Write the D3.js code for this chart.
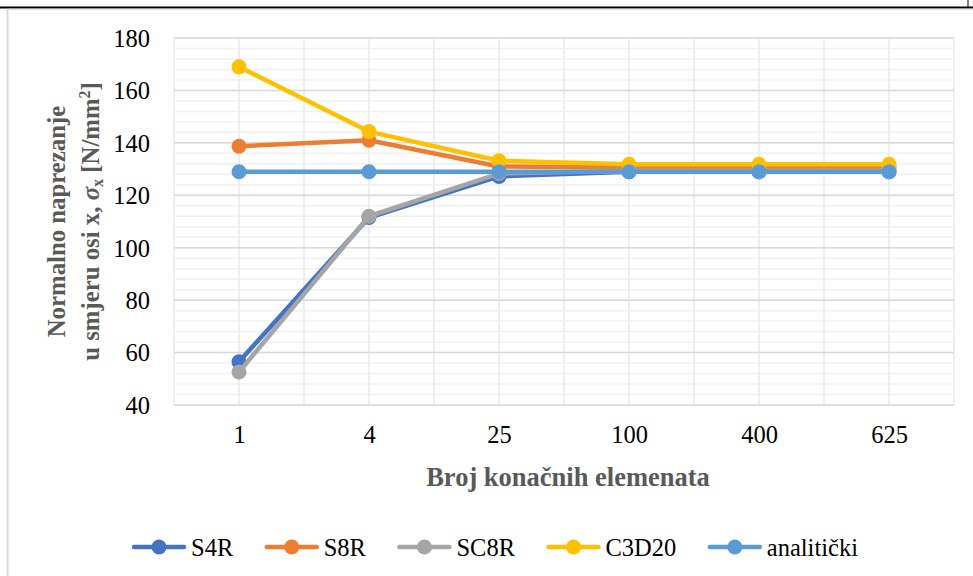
<!DOCTYPE html>
<html>
<head>
<meta charset="utf-8">
<script src="https://cdn.jsdelivr.net/npm/d3@7"></script>
<style>
  body { margin: 0; background: #fff; }
  svg, svg text { font-family: "Liberation Serif", "Times New Roman", serif !important; }
</style>
</head>
<body>
<div id="chart"></div>
<script>
// Data
const categories = ["1", "4", "25", "100", "400", "625"];
const s4r      = [56.5, 111.5, 127.2, 129.0, 129.0, 129.0];
const s8r      = [138.7, 141.0, 131.0, 130.6, 130.6, 130.6];
const sc8r     = [52.6, 112.0, 128.3, 129.4, 129.4, 129.4];
const c3d20    = [169.0, 144.3, 133.2, 131.8, 131.8, 131.8];
const analiticki = [129, 129, 129, 129, 129, 129];
const seriesNames = ["S4R", "S8R", "SC8R", "C3D20", "analitički"];
const seriesColors = ["#4472C4", "#ED7D31", "#A5A5A5", "#FFC000", "#5B9BD5"];
const yTicks = [40, 60, 80, 100, 120, 140, 160, 180];

const series = [s4r, s8r, sc8r, c3d20, analiticki].map((vals, i) => ({
    name: seriesNames[i],
    color: seriesColors[i],
    values: vals.map((v, j) => ({cat: categories[j], v: v}))
}));

const W = 973, H = 576;
const margin = {top: 38, right: 19, bottom: 171, left: 174},
    width = W - margin.left - margin.right,
    height = H - margin.top - margin.bottom;

const svg = d3.select("#chart").append("svg")
    .attr("width", W)
    .attr("height", H);

// outer frame bits
svg.append("line").attr("x1", 0).attr("x2", W).attr("y1", 7.5).attr("y2", 7.5)
    .attr("stroke", "#000").attr("stroke-width", 2);
svg.append("line").attr("x1", 7).attr("x2", W).attr("y1", 9.5).attr("y2", 9.5)
    .attr("stroke", "#e3e3e3").attr("stroke-width", 1.5);
svg.append("line").attr("x1", 7.5).attr("x2", 7.5).attr("y1", 9).attr("y2", H)
    .attr("stroke", "#d9d9d9").attr("stroke-width", 2);
svg.append("line").attr("x1", 968).attr("x2", 968).attr("y1", 0).attr("y2", 7)
    .attr("stroke", "#000").attr("stroke-width", 1);

const g = svg.append("g")
    .attr("transform", "translate(" + margin.left + "," + margin.top + ")");

const x = d3.scalePoint().domain(categories).range([0, width]).padding(0.5);
const step = x.step();
const y = d3.scaleLinear().domain([40, 180]).range([height, 0]);

// minor horizontal gridlines
g.selectAll(".hminor")
    .data(d3.range(40, 181, 4))
    .enter().append("line")
    .attr("x1", 0).attr("x2", width)
    .attr("y1", d => y(d)).attr("y2", d => y(d))
    .attr("stroke", "#f0f0f0").attr("stroke-width", 1.5);

// vertical gridlines (category centers and boundaries)
const vLines = [];
categories.forEach(c => { vLines.push(x(c) - step / 2); vLines.push(x(c)); });
vLines.push(width);
g.selectAll(".vgrid")
    .data(vLines)
    .enter().append("line")
    .attr("x1", d => d).attr("x2", d => d)
    .attr("y1", 0).attr("y2", height)
    .attr("stroke", "#eeeeee").attr("stroke-width", 2);

// major horizontal gridlines
g.selectAll(".hmajor")
    .data(yTicks)
    .enter().append("line")
    .attr("x1", 0).attr("x2", width)
    .attr("y1", d => y(d)).attr("y2", d => y(d))
    .attr("stroke", "#d9d9d9").attr("stroke-width", 1.5);

// y axis labels
const yAxis = g.append("g")
    .call(d3.axisLeft(y).tickValues(yTicks).tickSize(0).tickPadding(24));
yAxis.select(".domain").remove();
yAxis.attr("font-family", null).attr("font-size", null);
yAxis.selectAll("text")
    .style("font-size", "24.5px").attr("fill", "#000").attr("dy", "0.34em");

// x axis labels
const xAxis = g.append("g")
    .attr("transform", "translate(0," + height + ")")
    .call(d3.axisBottom(x).tickSize(0).tickPadding(21));
xAxis.select(".domain").remove();
xAxis.attr("font-family", null).attr("font-size", null);
xAxis.selectAll("text")
    .style("font-size", "24.5px").attr("fill", "#000");

// axis titles
g.append("text")
    .attr("x", width / 2 + 4).attr("y", height + 81)
    .attr("text-anchor", "middle")
    .style("font-size", "26.5px").attr("font-weight", "bold").attr("fill", "#595959")
    .text("Broj konačnih elemenata");

const ytitle = g.append("g")
    .attr("transform", "translate(-101," + (height / 2) + ") rotate(-90)");
ytitle.append("text")
    .attr("x", 0).attr("y", -8)
    .attr("text-anchor", "middle")
    .style("font-size", "24.8px").attr("font-weight", "bold").attr("fill", "#595959")
    .text("Normalno naprezanje");
const t2 = ytitle.append("text")
    .attr("x", 0).attr("y", 26)
    .attr("text-anchor", "middle")
    .style("font-size", "24.8px").attr("font-weight", "bold").attr("fill", "#595959");
t2.append("tspan").text("u smjeru osi x, ");
t2.append("tspan").attr("font-style", "italic").text("σ");
t2.append("tspan").style("font-size", "16px").attr("dy", 4).text("x");
t2.append("tspan").attr("dy", -4).text(" [N/mm");
t2.append("tspan").style("font-size", "16px").attr("dy", -9).text("2");
t2.append("tspan").attr("dy", 9).text("]");

// lines and markers
const line = d3.line().x(d => x(d.cat)).y(d => y(d.v));

const sg = g.selectAll(".series")
    .data(series)
    .enter().append("g")
    .attr("class", "series");

sg.append("path")
    .attr("d", d => line(d.values))
    .attr("fill", "none")
    .attr("stroke", d => d.color)
    .attr("stroke-width", 4.5)
    .attr("stroke-linejoin", "round")
    .attr("stroke-linecap", "round");

sg.selectAll("circle")
    .data(d => d.values.map(v => ({...v, color: d.color})))
    .enter().append("circle")
    .attr("cx", d => x(d.cat))
    .attr("cy", d => y(d.v))
    .attr("r", 7.5)
    .attr("fill", d => d.color);

// legend
const legend = svg.append("g").attr("transform", "translate(134,547)");
let lx = 0;
series.forEach(s => {
    const item = legend.append("g").attr("transform", "translate(" + lx + ",0)");
    item.append("line").attr("x1", 0).attr("x2", 50).attr("y1", 0).attr("y2", 0)
        .attr("stroke", s.color).attr("stroke-width", 4.5).attr("stroke-linecap", "round");
    item.append("circle").attr("cx", 25).attr("cy", 0).attr("r", 7.5).attr("fill", s.color);
    const t = item.append("text").attr("x", 57).attr("y", 8.5)
        .style("font-size", "24.5px").attr("fill", "#000").text(s.name);
    lx += 57 + t.node().getComputedTextLength() + 33.5;
});
</script>
</body>
</html>
